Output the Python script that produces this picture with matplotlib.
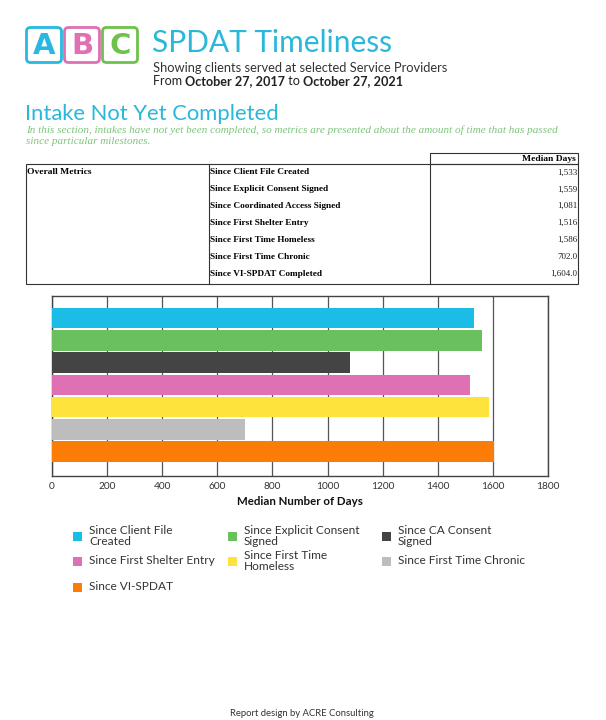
import matplotlib
matplotlib.use("Agg")
import matplotlib.pyplot as plt
from matplotlib.patches import FancyBboxPatch, Rectangle
from matplotlib.lines import Line2D

# ---------------- data ----------------
categories = ["Since Client File Created", "Since Explicit Consent Signed",
              "Since CA Consent Signed", "Since First Shelter Entry",
              "Since First Time Homeless", "Since First Time Chronic",
              "Since VI-SPDAT"]
legend_labels = ["Since Client File\nCreated", "Since Explicit Consent\nSigned",
                 "Since CA Consent\nSigned", "Since First Shelter Entry",
                 "Since First Time\nHomeless", "Since First Time Chronic",
                 "Since VI-SPDAT"]
median_days = [1533, 1559, 1081, 1516, 1586, 702, 1604]
colors = ["#1bbde6", "#6abf5e", "#444444", "#e070b4", "#ffe33d", "#bdbdbd", "#fb7c06"]

table_rows = ["Since Client File Created", "Since Explicit Consent Signed",
              "Since Coordinated Access Signed", "Since First Shelter Entry",
              "Since First Time Homeless", "Since First Time Chronic",
              "Since VI-SPDAT Completed"]
table_values = ["1,533", "1,559", "1,081", "1,516", "1,586", "702.0", "1,604.0"]
x_ticks = [0, 200, 400, 600, 800, 1000, 1200, 1400, 1600, 1800]

SANS = ["Lato", "DejaVu Sans"]
SERIF = ["Liberation Serif", "DejaVu Serif"]
CYAN = "#29b8dc"

W, H = 606, 720
fig = plt.figure(figsize=(W / 100, H / 100), dpi=100)
fig.patch.set_facecolor("white")

# overlay axes in pixel coordinates
ov = fig.add_axes([0, 0, 1, 1], zorder=5)
ov.set_xlim(0, W)
ov.set_ylim(H, 0)
ov.axis("off")
ov.patch.set_alpha(0)

# ---- logo ----
for i, (letter, col) in enumerate(zip("ABC", ["#29b8e2", "#e06fb4", "#6cc24a"])):
    x0 = 26.5 + i * 38
    box = FancyBboxPatch((x0, 27.5), 35, 35, boxstyle="round,pad=0,rounding_size=4",
                         fc="white", ec=col, lw=2.0)
    ov.add_patch(box)
    ov.text(x0 + 17.5, 45.5, letter, ha="center", va="center", fontsize=21,
            fontweight="heavy", color=col, family=["DejaVu Sans"])

# ---- title block ----
ov.text(152, 43, "SPDAT Timeliness", fontsize=21.5, color=CYAN, family=SANS,
        va="center", ha="left")
ov.text(153, 68, "Showing clients served at selected Service Providers", fontsize=9.3,
        color="#333333", family=SANS, va="center", ha="left")


def seq_text(x, y, parts, **kw):
    fig.canvas.draw()
    r = fig.canvas.get_renderer()
    for s, bold in parts:
        t = ov.text(x, y, s, fontweight="bold" if bold else "normal", **kw)
        bb = t.get_window_extent(renderer=r)
        x += bb.width


seq_text(153, 81, [("From ", False), ("October 27, 2017", True), (" to ", False),
                   ("October 27, 2021", True)],
         fontsize=9.1, color="#222222", family=SANS, va="center", ha="left")

ov.text(25, 114, "Intake Not Yet Completed", fontsize=15.8, color=CYAN, family=SANS,
        va="center", ha="left")
ov.text(26, 130, "In this section, intakes have not yet been completed, so metrics are presented about the amount of time that has passed",
        fontsize=8.0, style="italic", color="#7cc47c", family=SERIF, va="center", ha="left")
ov.text(26, 142, "since particular milestones.",
        fontsize=8.0, style="italic", color="#7cc47c", family=SERIF, va="center", ha="left")

# ---- table ----
lc = "#333333"
ov.add_patch(Rectangle((430, 153), 148, 11, fill=False, ec=lc, lw=0.8))
ov.add_patch(Rectangle((26, 164), 552, 120, fill=False, ec=lc, lw=0.8))
ov.add_line(Line2D([209, 209], [164, 284], color=lc, lw=0.8))
ov.add_line(Line2D([430, 430], [164, 284], color=lc, lw=0.8))
ov.text(576, 159, "Median Days", fontsize=6.8, fontweight="bold", family=SERIF,
        ha="right", va="center", color="black")
ov.text(27, 172, "Overall Metrics", fontsize=6.8, fontweight="bold", family=SERIF,
        ha="left", va="center", color="black")
for i, (lab, val) in enumerate(zip(table_rows, table_values)):
    y = 172.5 + i * 16.9
    ov.text(210, y, lab, fontsize=6.7, fontweight="bold", family=SERIF,
            ha="left", va="center", color="black")
    ov.text(577, y, val, fontsize=6.5, family=SERIF, ha="right", va="center",
            color="#222222")

# ---- bar chart ----
ax = fig.add_axes([52 / W, 1 - 476 / H, 496 / W, 180 / H])
ypos = list(range(len(median_days)))
ax.barh(ypos, median_days, height=0.92, color=colors, zorder=3)
ax.set_ylim(7.1, -1.0)
ax.set_xlim(0, 1800)
ax.set_xticks(x_ticks)
ax.set_xticklabels([str(v) for v in x_ticks], fontsize=7.3, color="#333333", family=SANS)
ax.set_yticks([])
ax.tick_params(axis="x", length=0, pad=4)
ax.grid(axis="x", color="#555555", lw=0.9, zorder=1)
for s in ax.spines.values():
    s.set_color("#444444")
    s.set_linewidth(1.0)
ax.set_xlabel("Median Number of Days", fontsize=8.3, fontweight="bold", family=SANS,
              color="#111111", labelpad=4)

# ---- legend ----
leg_cols = [73, 228, 382]
leg_rows = [536, 561, 587]
for i, (lab, col) in enumerate(zip(legend_labels, colors)):
    r, c = divmod(i, 3)
    x = leg_cols[c]
    y = leg_rows[r]
    ov.add_patch(Rectangle((x, y - 4), 8.5, 8.5, fc=col, ec="none"))
    ov.text(x + 16, y, lab, fontsize=8.6, color="#333333", family=SANS,
            ha="left", va="center", linespacing=0.92)

ov.text(302, 713, "Report design by ACRE Consulting", fontsize=6.8, color="#333333",
        family=SANS, ha="center", va="center")

fig.savefig("out.png", dpi=100, facecolor="white")
